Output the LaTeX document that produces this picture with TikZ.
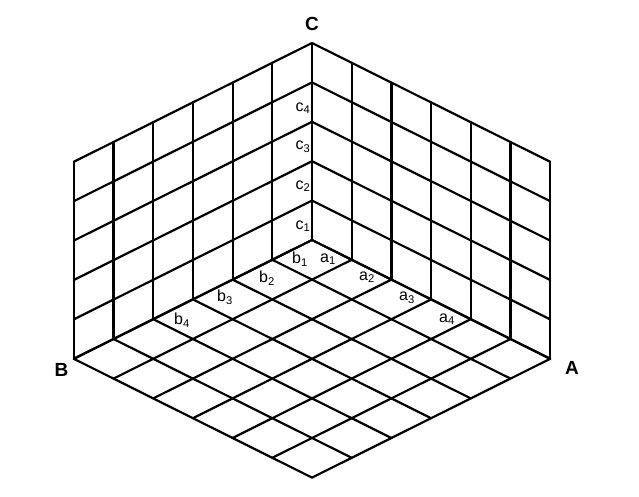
\documentclass[tikz,border=0pt]{standalone}
\usepackage{fontspec}
\setmainfont{Liberation Sans}
\begin{document}
\begin{tikzpicture}[x=1pt,y=-1pt,
  gridline/.style={line width=2.2pt,line cap=round,line join=round},
  axislabel/.style={font=\fontsize{19}{21}\selectfont\bfseries,inner sep=0pt},
  ticklabel/.style={font=\fontsize{16}{18}\selectfont,inner sep=0pt}]
\useasboundingbox (0,0) rectangle (639,497);
\begin{scope}[shift={(312pt,-240pt)},x={(39.7pt,-19.8pt)},y={(-39.7pt,-19.8pt)},z={(0pt,39.4pt)}]
  % floor
  \foreach \i in {0,...,6} {
    \draw[gridline] (\i,0,0) -- (\i,6,0);
    \draw[gridline] (0,\i,0) -- (6,\i,0);
  }
  % right wall (a-c)
  \foreach \i in {0,...,6} \draw[gridline] (\i,0,0) -- (\i,0,5);
  \foreach \k in {0,...,5} \draw[gridline] (0,0,\k) -- (6,0,\k);
  % left wall (b-c)
  \foreach \i in {0,...,6} \draw[gridline] (0,\i,0) -- (0,\i,5);
  \foreach \k in {0,...,5} \draw[gridline] (0,0,\k) -- (0,6,\k);
\end{scope}
% axis labels
\node[axislabel] (C) at (312,24) {C};
\node[axislabel] (B) at (61.5,370) {B};
\node[axislabel] (A) at (572,368) {A};
% c labels
\node[ticklabel] (c4) at (303,108) {c\textsubscript{4}};
\node[ticklabel] (c3) at (303,147) {c\textsubscript{3}};
\node[ticklabel] (c2) at (303,186) {c\textsubscript{2}};
\node[ticklabel] (c1) at (303,226) {c\textsubscript{1}};
% b labels
\node[ticklabel] (b1) at (300,259) {b\textsubscript{1}};
\node[ticklabel] (b2) at (267,278) {b\textsubscript{2}};
\node[ticklabel] (b3) at (225,297) {b\textsubscript{3}};
\node[ticklabel] (b4) at (182,320) {b\textsubscript{4}};
% a labels
\node[ticklabel] (a1) at (328,259) {a\textsubscript{1}};
\node[ticklabel] (a2) at (367,277) {a\textsubscript{2}};
\node[ticklabel] (a3) at (407,298) {a\textsubscript{3}};
\node[ticklabel] (a4) at (447,319) {a\textsubscript{4}};
\end{tikzpicture}
\end{document}
